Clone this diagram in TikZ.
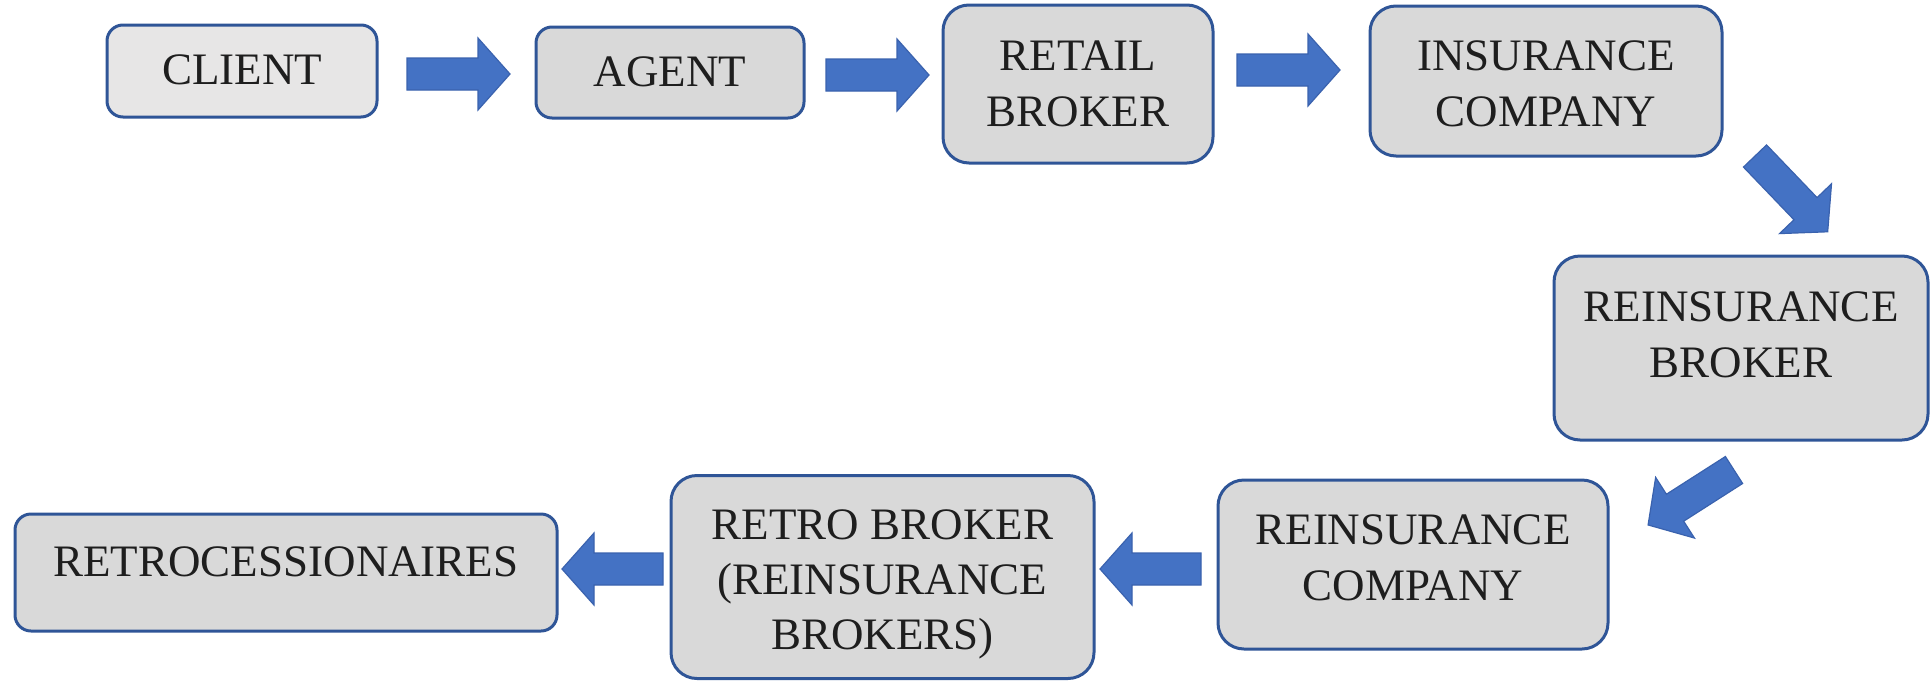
\documentclass[tikz,border=0pt]{standalone}
\usepackage{fontspec}
\setmainfont{Liberation Serif}
\definecolor{boxfill}{HTML}{D9D9D9}
\definecolor{clientfill}{HTML}{E7E6E6}
\definecolor{boxline}{HTML}{2F5597}
\definecolor{arrowfill}{HTML}{4472C4}
\definecolor{arrowline}{HTML}{3A62AE}
\definecolor{txt}{HTML}{1E1E1E}
\tikzset{
  box/.style={draw=boxline, line width=3pt, fill=boxfill, rounded corners=16pt, inner sep=0pt},
  bigbox/.style={box, rounded corners=26pt},
  label/.style={anchor=north, inner sep=0pt, align=center, text=txt,
    font=\fontsize{45}{56}\selectfont},
  barrow/.style={fill=arrowfill, draw=arrowline, line width=1.2pt, line join=miter},
}
\newcommand\blockarrow[3]{% tail coordinate, angle, length
  \begin{scope}[shift={(#1)}, rotate=#2]
    \filldraw[barrow] (0,-16) -- ({#3-32},-16) -- ({#3-32},-36) -- (#3,0)
      -- ({#3-32},36) -- ({#3-32},16) -- (0,16) -- cycle;
  \end{scope}}
\begin{document}
\begin{tikzpicture}[x=1pt, y=1pt]
\useasboundingbox (0,0) rectangle (1931,-681);

% boxes
\node[box, fill=clientfill, minimum width=270pt, minimum height=92pt] (client) at (242,-71) {};
\node[box, minimum width=268pt, minimum height=91pt] (agent) at (670,-72.5) {};
\node[bigbox, minimum width=270pt, minimum height=158pt] (retail) at (1078,-84) {};
\node[bigbox, minimum width=352pt, minimum height=150pt] (insco) at (1546,-81) {};
\node[bigbox, minimum width=374pt, minimum height=184pt] (reibroker) at (1741,-348) {};
\node[bigbox, minimum width=390pt, minimum height=169pt] (reico) at (1413,-564.5) {};
\node[bigbox, minimum width=423pt, minimum height=203pt] (retro) at (882.5,-577) {};
\node[box, minimum width=542pt, minimum height=117pt] (retroces) at (286,-572.5) {};

% texts
\node[label] (tclient) at (242,-55) {CLIENT};
\node[label] (tagent) at (670,-56) {AGENT};
\node[label] (tretail) at (1078,-41) {RETAIL\\BROKER};
\node[label] (tinsco) at (1546,-40) {INSURANCE\\COMPANY};
\node[label] (treibroker) at (1741,-291) {REINSURANCE\\BROKER};
\node[label] (treico) at (1413,-514) {REINSURANCE\\COMPANY};
\node[label, font=\fontsize{45}{55}\selectfont] (tretro) at (882.5,-509) {RETRO BROKER\\(REINSURANCE\\BROKERS)};
\node[label] (tretroces) at (286,-546) {RETROCESSIONAIRES};

% arrow end points
\coordinate (a1s) at (407,-74);   \coordinate (a1e) at (510,-74);
\coordinate (a2s) at (826,-75);   \coordinate (a2e) at (929,-75);
\coordinate (a3s) at (1237,-70);  \coordinate (a3e) at (1340,-70);
\coordinate (d1s) at (1755,-156); \coordinate (d1e) at (1828,-232);
\coordinate (d2s) at (1734,-470); \coordinate (d2e) at (1648,-525);
\coordinate (l1s) at (1201,-569); \coordinate (l1e) at (1100,-569);
\coordinate (l2s) at (663,-569);  \coordinate (l2e) at (562,-569);

\blockarrow{a1s}{0}{103}
\blockarrow{a2s}{0}{103}
\blockarrow{a3s}{0}{103}
\blockarrow{d1s}{-46.2}{105}
\blockarrow{d2s}{212.6}{102}
\blockarrow{l1s}{180}{101}
\blockarrow{l2s}{180}{101}
\end{tikzpicture}
\end{document}
